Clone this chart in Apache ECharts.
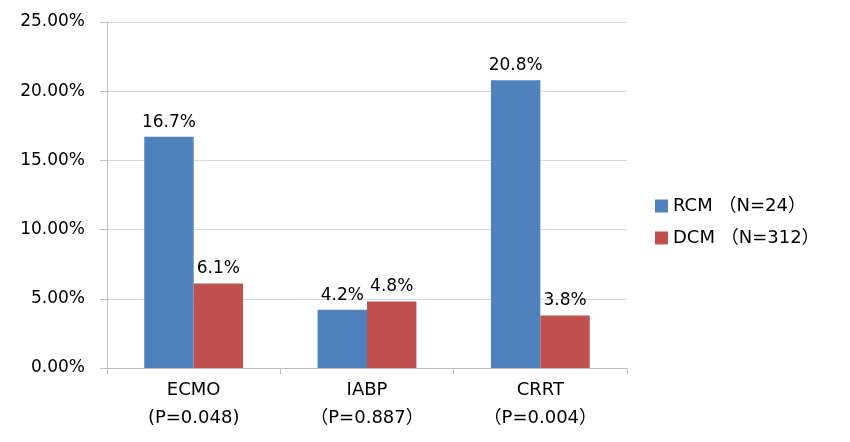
<!DOCTYPE html>
<html><head><meta charset="utf-8">
<script src="https://cdn.jsdelivr.net/npm/echarts@6/dist/echarts.min.js"></script>
<style>html,body{margin:0;padding:0;background:#fff}#c{width:850px;height:442px}</style>
</head><body><div id="c"></div>
<script>
var categories = ["ECMO\n(P=0.048)", "IABP\n（P=0.887）", "CRRT\n（P=0.004）"];
var seriesNames = ["RCM （N=24）", "DCM （N=312）"];
var rcmValues = [16.7, 4.2, 20.8];
var dcmValues = [6.1, 4.8, 3.8];
var yTicks = [0, 5, 10, 15, 20, 25];

var FONT = "DejaVu Sans, Noto Sans CJK SC, sans-serif";
var chart = echarts.init(document.getElementById('c'));
function lbl() {
  return {show: true, position: 'top', distance: 6, color: '#000', fontSize: 17, fontFamily: FONT,
    formatter: function (p) { return p.value.toFixed(1) + '%'; }};
}
chart.setOption({
  animation: false,
  textStyle: {fontFamily: FONT},
  grid: {left: 107, right: 223, top: 22, bottom: 74, containLabel: false},
  legend: {
    orient: 'vertical', left: 650, top: 192, itemWidth: 13, itemHeight: 13, itemGap: 14,
    icon: 'rect', textStyle: {fontSize: 18, fontFamily: FONT, color: '#000'},
    data: seriesNames
  },
  xAxis: {
    type: 'category', data: categories,
    axisLine: {lineStyle: {color: '#bfbfbf'}},
    axisTick: {show: true, length: 6, lineStyle: {color: '#bfbfbf'}},
    axisLabel: {color: '#000', fontSize: 18, fontFamily: FONT, lineHeight: 28, margin: 8, interval: 0}
  },
  yAxis: {
    type: 'value', min: yTicks[0], max: yTicks[yTicks.length - 1], interval: 5,
    axisLine: {show: true, lineStyle: {color: '#bfbfbf'}},
    axisTick: {show: true, inside: false, length: 7, lineStyle: {color: '#bfbfbf'}},
    splitLine: {lineStyle: {color: '#d9d9d9'}},
    axisLabel: {color: '#000', fontSize: 17, fontFamily: FONT, margin: 22,
      formatter: function (v) { return v.toFixed(2) + '%'; }}
  },
  series: [
    {name: seriesNames[0], type: 'bar', data: rcmValues, barGap: '0%', barCategoryGap: '43%',
      itemStyle: {color: '#4f81bd'}, label: lbl()},
    {name: seriesNames[1], type: 'bar', data: dcmValues,
      itemStyle: {color: '#c0504d'}, label: lbl()}
  ]
});
</script></body></html>
